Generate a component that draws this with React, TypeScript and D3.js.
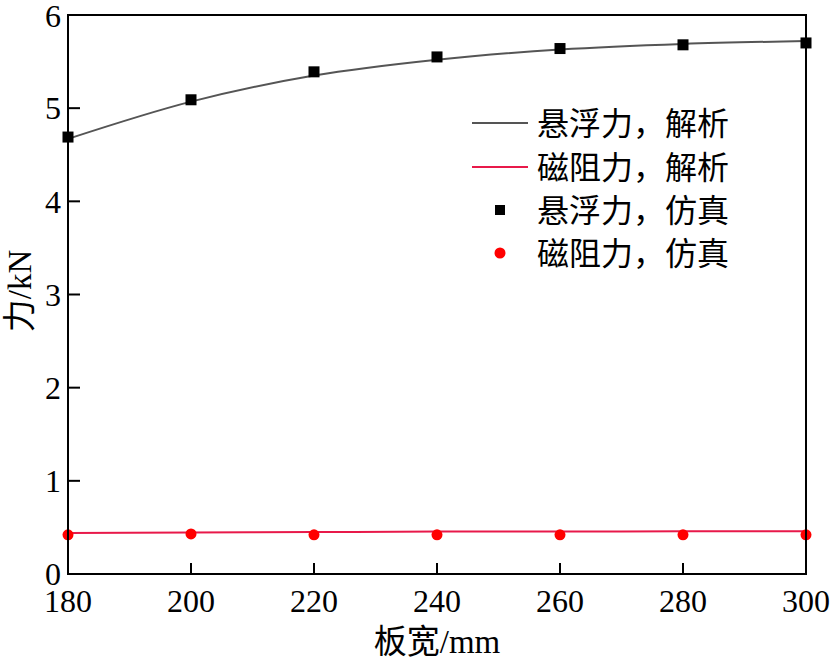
import React from "react";
import * as d3 from "d3";

const widths = [180, 200, 220, 240, 260, 280, 300];
const levAnalytic = [4.67, 5.07, 5.35, 5.52, 5.63, 5.69, 5.72];
const dragAnalytic = [0.44, 0.445, 0.45, 0.455, 0.455, 0.46, 0.46];
const levSim = [4.69, 5.09, 5.39, 5.55, 5.64, 5.68, 5.7];
const dragSim = [0.42, 0.43, 0.42, 0.42, 0.42, 0.42, 0.42];
const xTicks = [180, 200, 220, 240, 260, 280, 300];
const yTicks = [0, 1, 2, 3, 4, 5, 6];
const legendLabels = ["悬浮力，解析", "磁阻力，解析", "悬浮力，仿真", "磁阻力，仿真"];

const W = 833, H = 664;
const L = 68, R = 806, T = 15, B = 574;
const serif = "'Liberation Serif', 'Times New Roman', serif";
const cjk = "'Noto Sans CJK SC', sans-serif";

export default function App() {
  const x = d3.scaleLinear().domain([180, 300]).range([L, R]);
  const y = d3.scaleLinear().domain([0, 6]).range([B, T]);
  const line = d3
    .line<number>()
    .x((_, i) => x(widths[i]))
    .y((d) => y(d))
    .curve(d3.curveMonotoneX);
  const gray = "#555555";
  const pink = "#e8194a";
  const red = "#ff0000";
  const legY = [123, 167, 210, 253];
  return (
    <svg width={W} height={H} style={{ display: "block", position: "absolute", left: 0, top: 0 }}>
      <rect width={W} height={H} fill="#fff" />
      <path d={line(levAnalytic) || ""} fill="none" stroke={gray} strokeWidth={2} />
      <path d={line(dragAnalytic) || ""} fill="none" stroke={pink} strokeWidth={2} />
      {levSim.map((v, i) => (
        <rect key={"s" + i} x={x(widths[i]) - 5.5} y={y(v) - 5.5} width={11} height={11} fill="#000" />
      ))}
      {dragSim.map((v, i) => (
        <circle key={"c" + i} cx={x(widths[i])} cy={y(v)} r={5.5} fill={red} />
      ))}
      <rect x={L} y={T} width={R - L} height={B - T} fill="none" stroke="#000" strokeWidth={2} />
      {xTicks.map((t) => (
        <g key={"x" + t}>
          {t !== 180 && t !== 300 && <line x1={x(t)} x2={x(t)} y1={B} y2={B - 11} stroke="#000" strokeWidth={2} />}
          <text x={x(t)} y={612} textAnchor="middle" fontFamily={serif} fontSize={32} fill="#000">
            {t}
          </text>
        </g>
      ))}
      {yTicks.map((t) => (
        <g key={"y" + t}>
          {t !== 0 && t !== 6 && <line x1={L} x2={L + 12} y1={y(t)} y2={y(t)} stroke="#000" strokeWidth={2} />}
          <text x={61} y={Math.max(y(t), 16)} dy="0.35em" textAnchor="end" fontFamily={serif} fontSize={32} fill="#000">
            {t}
          </text>
        </g>
      ))}
      <text x={437} y={653} textAnchor="middle" fontSize={33} fill="#000">
        <tspan fontFamily={cjk}>板宽</tspan>
        <tspan fontFamily={serif}>/mm</tspan>
      </text>
      <text transform="translate(31,291) rotate(-90)" textAnchor="middle" fontSize={33} fill="#000">
        <tspan fontFamily={cjk}>力</tspan>
        <tspan fontFamily={serif}>/kN</tspan>
      </text>
      <line x1={472} x2={528} y1={legY[0]} y2={legY[0]} stroke={gray} strokeWidth={2} />
      <line x1={472} x2={528} y1={legY[1]} y2={legY[1]} stroke={pink} strokeWidth={2} />
      <rect x={500 - 5} y={legY[2] - 5} width={10} height={10} fill="#000" />
      <circle cx={500} cy={legY[3]} r={5.5} fill={red} />
      {legendLabels.map((s, i) => (
        <text key={"l" + i} x={537} y={legY[i]} dy="0.36em" fontFamily={cjk} fontSize={32} fill="#000">
          {s}
        </text>
      ))}
    </svg>
  );
}
